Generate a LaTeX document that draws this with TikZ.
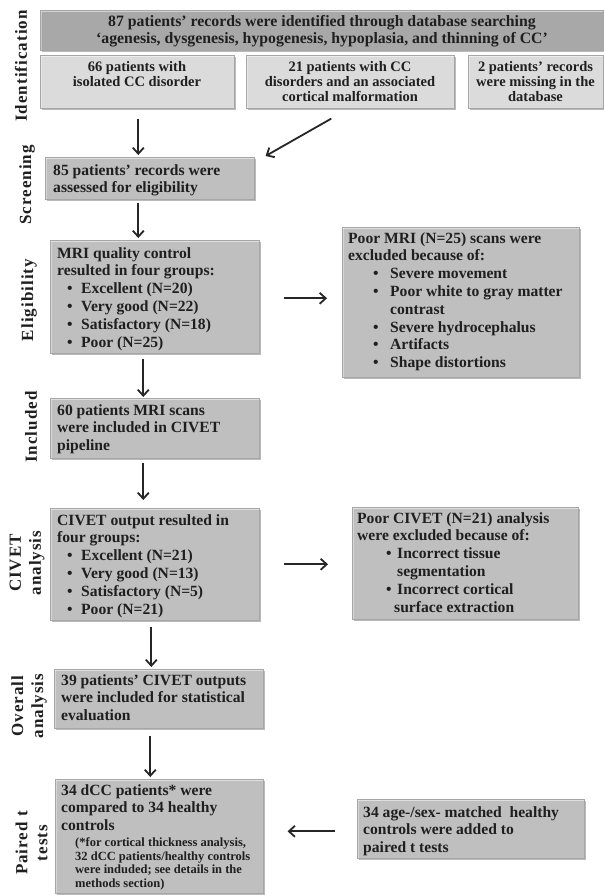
\documentclass[tikz,border=0pt]{standalone}
\usepackage{fontspec}
\setmainfont{Liberation Serif}
\usetikzlibrary{arrows.meta,shadows}
\begin{document}
\begin{tikzpicture}[x=1pt,y=-1pt,
  box/.style={draw=black!35, line width=0.6pt, inner sep=0pt, anchor=north west,
    drop shadow={shadow xshift=1.6pt, shadow yshift=-1.6pt, opacity=0.45, fill=black!60},
    path picture={\fill[white,opacity=0.5] (path picture bounding box.north west) rectangle ([yshift=-1.8pt]path picture bounding box.north east);
                  \fill[white,opacity=0.35] (path picture bounding box.north west) rectangle ([xshift=1.5pt]path picture bounding box.south west);}},
  mid/.style={box, fill=black!25},
  dark/.style={box, fill=black!34},
  light/.style={box, fill=black!14},
  txt/.style={inner sep=0pt, anchor=north west, align=left, font=\bfseries\fontsize{15.6}{17.8}\selectfont, text=black!88},
  ctxt/.style={inner sep=0pt, anchor=north, align=center, font=\bfseries\fontsize{14.5}{15}\selectfont, text=black!88},
  lab/.style={inner sep=0pt, rotate=90, align=center, font=\bfseries\fontsize{17}{20}\selectfont\addfontfeature{LetterSpace=6}, text=black!88},
  arr/.style={-{Straight Barb[length=6pt,width=11pt]}, line width=1.8pt, black!85}
]
\fill[white] (0,0) rectangle (604,895);
\useasboundingbox (0,0) rectangle (604,895);

% boxes
\node[dark,  minimum width=563pt, minimum height=40pt]  (top) at (40,10) {};
\node[light, minimum width=194pt, minimum height=53pt]  (r1)  at (40,55) {};
\node[light, minimum width=208pt, minimum height=53pt]  (r2)  at (246,55) {};
\node[light, minimum width=135pt, minimum height=53pt]  (r3)  at (468,55) {};
\node[mid,   minimum width=209pt, minimum height=42pt]  (scr) at (45,157) {};
\node[mid,   minimum width=209pt, minimum height=113pt] (mri) at (50,240) {};
\node[mid,   minimum width=237pt, minimum height=150pt] (pmri) at (342,227) {};
\node[mid,   minimum width=209pt, minimum height=60pt]  (inc) at (50,398) {};
\node[mid,   minimum width=209pt, minimum height=112pt] (civ) at (50,508) {};
\node[mid,   minimum width=226pt, minimum height=112pt] (pciv) at (352,507) {};
\node[mid,   minimum width=209pt, minimum height=59pt]  (o39) at (54,669) {};
\node[mid,   minimum width=208pt, minimum height=114pt] (pair) at (55,779) {};
\node[mid,   minimum width=227pt, minimum height=59pt]  (hc)  at (357,799) {};

% texts
\node[ctxt, font=\bfseries\fontsize{15.8}{16.5}\selectfont] (topT) at (322,15.5)
  {87 patients’ records were identified through database searching\\‘agenesis, dysgenesis, hypogenesis, hypoplasia, and thinning of CC’};
\node[ctxt] (r1T) at (137,61.5) {66 patients with\\isolated CC disorder};
\node[ctxt] (r2T) at (350,61.5) {21 patients with CC\\disorders and an associated\\cortical malformation};
\node[ctxt] (r3T) at (535.5,61.5) {2 patients’ records\\were missing in the\\database};
\node[txt] (scrT) at (53,164) {85 patients’ records were\\assessed for eligibility};
\node[txt] (mriT) at (57,247) {MRI quality control\\resulted in four groups:\\
  \hspace*{10pt}\makebox[14pt][l]{\textbullet}Excellent (N=20)\\
  \hspace*{10pt}\makebox[14pt][l]{\textbullet}Very good (N=22)\\
  \hspace*{10pt}\makebox[14pt][l]{\textbullet}Satisfactory (N=18)\\
  \hspace*{10pt}\makebox[14pt][l]{\textbullet}Poor (N=25)};
\node[txt] (pmriT) at (348,232) {Poor MRI (N=25) scans were\\excluded because of:\\
  \hspace*{25pt}\makebox[17pt][l]{\textbullet}Severe movement\\
  \hspace*{25pt}\makebox[17pt][l]{\textbullet}Poor white to gray matter\\
  \hspace*{42pt}contrast\\
  \hspace*{25pt}\makebox[17pt][l]{\textbullet}Severe hydrocephalus\\
  \hspace*{25pt}\makebox[17pt][l]{\textbullet}Artifacts\\
  \hspace*{25pt}\makebox[17pt][l]{\textbullet}Shape distortions};
\node[txt] (incT) at (57,404) {60 patients MRI scans\\were included in CIVET\\pipeline};
\node[txt] (civT) at (57,514) {CIVET output resulted in\\four groups:\\
  \hspace*{10pt}\makebox[14pt][l]{\textbullet}Excellent (N=21)\\
  \hspace*{10pt}\makebox[14pt][l]{\textbullet}Very good (N=13)\\
  \hspace*{10pt}\makebox[14pt][l]{\textbullet}Satisfactory (N=5)\\
  \hspace*{10pt}\makebox[14pt][l]{\textbullet}Poor (N=21)};
\node[txt] (pcivT) at (357,512) {Poor CIVET (N=21) analysis\\were excluded because of:\\
  \hspace*{29pt}\makebox[11pt][l]{\textbullet}Incorrect tissue\\
  \hspace*{40pt}segmentation\\
  \hspace*{29pt}\makebox[11pt][l]{\textbullet}Incorrect cortical\\
  \hspace*{37pt}surface extraction};
\node[txt] (o39T) at (61,674) {39 patients’ CIVET outputs\\were included for statistical\\evaluation};
\node[txt] (pairT) at (61,784) {34 dCC patients* were\\compared to 34 healthy\\controls};
\node[txt, font=\bfseries\fontsize{12.5}{13.7}\selectfont] (pairS) at (75,837.5)
  {(*for cortical thickness analysis,\\32 dCC patients/healthy controls\\were induded; see details in the\\methods section)};
\node[txt] (hcT) at (363,806) {34 age-/sex- matched\ \ healthy\\controls were added to\\paired t tests};

% stage labels
\node[lab] (lId)  at (21,66)  {Identification};
\node[lab] (lScr) at (27,185) {Screening};
\node[lab] (lEl)  at (29,300) {Eligibility};
\node[lab] (lInc) at (31,427) {Included};
\node[lab] (lCiv) at (27,563) {CIVET\\analysis};
\node[lab] (lOv)  at (29,706) {Overall\\analysis};
\node[lab] (lPa)  at (31.5,843) {Paired t\\tests};

% arrows
\draw[arr] ([xshift=1pt,yshift=-10pt]r1.south) -- ([xshift=-11.5pt,yshift=2pt]scr.north);
\draw[arr] ([xshift=-19pt,yshift=-10pt]r2.south) -- ([xshift=11pt,yshift=1pt]scr.north east);
\draw[arr] ([xshift=-11.5pt,yshift=-3pt]scr.south) -- ([xshift=-16.5pt,yshift=2pt]mri.north);
\draw[arr] ([xshift=24pt,yshift=-1.5pt]mri.east) -- ([xshift=-15pt,yshift=4pt]pmri.west);
\draw[arr] ([xshift=-11.5pt,yshift=-5pt]mri.south) -- ([xshift=-11.5pt,yshift=1pt]inc.north);
\draw[arr] ([xshift=-11.5pt,yshift=-4pt]inc.south) -- ([xshift=-11.5pt,yshift=8pt]civ.north);
\draw[arr] ([xshift=24pt]civ.east) -- ([xshift=-24pt,yshift=-1pt]pciv.west);
\draw[arr] ([xshift=-3.5pt,yshift=-6pt]civ.south) -- ([xshift=-7.5pt,yshift=2pt]o39.north);
\draw[arr] ([xshift=-8.5pt,yshift=-7pt]o39.south) -- ([xshift=-9pt,yshift=2pt]pair.north);
\draw[arr] ([xshift=-22pt,yshift=-2.5pt]hc.west) -- ([xshift=24pt,yshift=5pt]pair.east);
\end{tikzpicture}
\end{document}
